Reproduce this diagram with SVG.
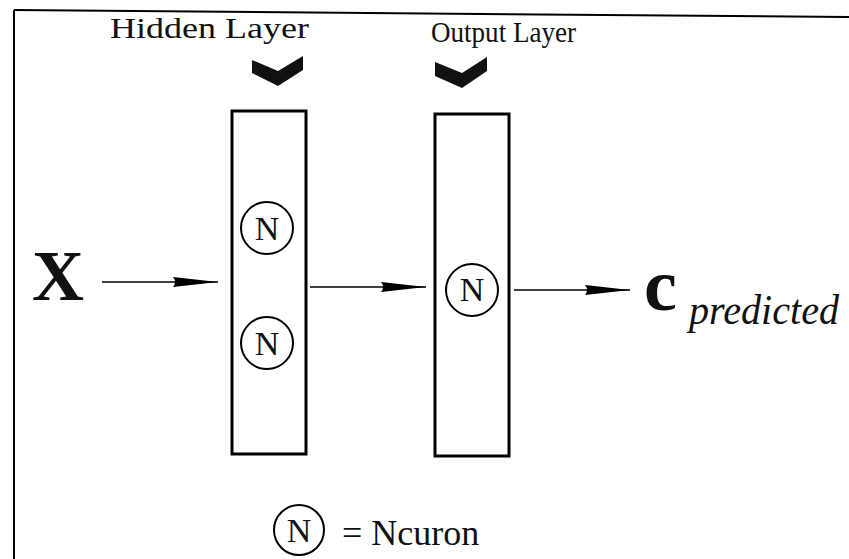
<svg xmlns="http://www.w3.org/2000/svg" width="849" height="559" viewBox="0 0 849 559">
<defs>
<style>
text{font-family:'Liberation Serif','Times New Roman',Times,serif}
.t{fill:#111}
.box{fill:none;stroke:#000;stroke-width:3}
.neu{fill:none;stroke:#000;stroke-width:2}
.nl{font-size:34px;text-anchor:middle;fill:#111}
.conn{stroke:#000;stroke-width:1.5;fill:none}
.chev{fill:#111}
</style>
<marker id="ah" markerUnits="userSpaceOnUse" markerWidth="46" markerHeight="12" refX="45" refY="6" orient="auto">
<path d="M0,1 L45,6 L0,11 Q4,6 0,1 z" fill="#000"/>
</marker>
</defs>
<rect width="849" height="559" fill="#fff"/>
<g id="frame">
<line x1="14" y1="10" x2="849" y2="17" stroke="#000" stroke-width="2"/>
<line x1="14" y1="10" x2="14" y2="559" stroke="#000" stroke-width="2"/>
</g>
<g id="hidden-label">
<text class="t" x="110" y="38" font-size="29" textLength="199" lengthAdjust="spacingAndGlyphs">Hidden Layer</text>
<polygon class="chev" points="252,60 278,71 303,56 303,70 278,86 252,73"/>
</g>
<g id="output-label">
<text class="t" x="431" y="42" font-size="30" textLength="145" lengthAdjust="spacingAndGlyphs">Output Layer</text>
<polygon class="chev" points="435,62 462,73 487,57 487,71 462,88 435,76"/>
</g>
<g id="input-x">
<text class="t" x="32" y="300" font-size="72" font-weight="bold">X</text>
</g>
<g id="hidden-layer">
<rect class="box" x="232" y="111" width="74" height="343"/>
<circle class="neu" cx="267" cy="228" r="26"/>
<text class="nl" x="267" y="240">N</text>
<circle class="neu" cx="267" cy="343" r="26"/>
<text class="nl" x="267" y="355">N</text>
</g>
<g id="output-layer">
<rect class="box" x="435" y="114" width="74" height="342"/>
<circle class="neu" cx="472" cy="290" r="26"/>
<text class="nl" x="472" y="301" font-size="30" fill="#333">N</text>
</g>
<g id="output-c">
<text class="t" x="644" y="310" font-size="74" font-weight="bold">c</text>
<text class="t" x="689" y="324" font-size="42" font-style="italic" textLength="150" lengthAdjust="spacingAndGlyphs">predicted</text>
</g>
<g id="connectors">
<line class="conn" x1="102" y1="282" x2="218" y2="282" marker-end="url(#ah)"/>
<line class="conn" x1="310" y1="287" x2="426" y2="287" marker-end="url(#ah)"/>
<line class="conn" x1="514" y1="290" x2="630" y2="290" marker-end="url(#ah)"/>
</g>
<g id="legend">
<circle class="neu" cx="299" cy="530" r="25"/>
<text class="nl" x="299" y="542">N</text>
<text class="t" x="342" y="545" font-size="36">= Ncuron</text>
</g>
</svg>
